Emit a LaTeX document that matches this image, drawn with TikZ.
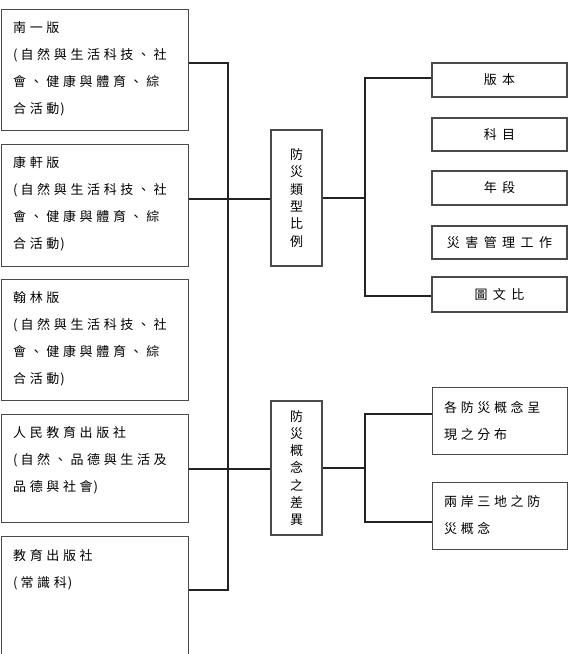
\documentclass[tikz,border=0pt]{standalone}
\usepackage{fontspec}
\newfontfamily\cjk[LetterSpace=28]{Noto Sans CJK TC}
\newfontfamily\cjkw[LetterSpace=42]{Noto Sans CJK TC}
\newfontfamily\cjkp{Noto Sans CJK TC}
\definecolor{boxc}{HTML}{4A4A4A}
\definecolor{linec}{HTML}{222222}
\newcommand{\lp}{(\hspace{3pt}}
\newcommand{\rp}{\hspace{1pt})}
\begin{document}
\begin{tikzpicture}[x=1pt,y=-1pt,
  box/.style={draw=boxc, line width=1.4pt, inner sep=0pt, anchor=north west},
  rbox/.style={draw=boxc, line width=1.4pt, inner sep=0pt, minimum width=135pt,
    font={\cjkw\fontsize{13}{27}\selectfont}},
  txt/.style={anchor=north west, inner sep=0pt, align=left,
    font={\cjk\fontsize{13}{27}\selectfont}},
  vtxt/.style={draw=boxc, line width=1.4pt, inner sep=0pt, minimum width=51pt,
    align=center, font={\cjkp\fontsize{13}{17.3}\selectfont}},
  conn/.style={draw=linec, line width=1.1pt}]
\useasboundingbox (0,0) rectangle (570,654);
\clip (0,0) rectangle (570,654);
\fill[white] (0,0) rectangle (570,654);
% left boxes
\node[box, minimum width=187pt, minimum height=121pt] (b1) at (1,9) {};
\node[txt] (b1t) at (13,21) {南一版\\\lp 自然與生活科技、社\\會、健康與體育、綜\\合活動\rp};
\node[box, minimum width=187pt, minimum height=122pt] (b2) at (1,144) {};
\node[txt] (b2t) at (13,156) {康軒版\\\lp 自然與生活科技、社\\會、健康與體育、綜\\合活動\rp};
\node[box, minimum width=187pt, minimum height=121pt] (b3) at (1,279) {};
\node[txt] (b3t) at (13,291) {翰林版\\\lp 自然與生活科技、社\\會、健康與體育、綜\\合活動\rp};
\node[box, minimum width=187pt, minimum height=108pt] (b4) at (1,414) {};
\node[txt] (b4t) at (13,426) {人民教育出版社\\\lp 自然、品德與生活及\\品德與社會\rp};
\node[box, minimum width=187pt, minimum height=130pt] (b5) at (1,536) {};
\node[txt] (b5t) at (13,549) {教育出版社\\\lp 常識科\rp};
% middle boxes
\node[vtxt, minimum height=136pt] (m1) at (296.5,198) {防\\災\\類\\型\\比\\例};
\node[vtxt, minimum height=134pt] (m2) at (296.5,468) {防\\災\\概\\念\\之\\差\\異};
% right boxes
\node[rbox, minimum height=34pt] (r1) at (499.5,80) {版本};
\node[rbox, minimum height=33pt] (r2) at (499.5,134.5) {科目};
\node[rbox, minimum height=34pt] (r3) at (499.5,188) {年段};
\node[rbox, minimum height=33pt] (r4) at (499.5,242.5) {災害管理工作};
\node[rbox, minimum height=35pt] (r5) at (499.5,294.5) {圖文比};
\node[box, minimum width=135pt, minimum height=67pt] (s1) at (432,387) {};
\node[txt] (s1t) at (444,401) {各防災概念呈\\現之分布};
\node[box, minimum width=135pt, minimum height=67pt] (s2) at (432,482) {};
\node[txt] (s2t) at (444,495) {兩岸三地之防\\災概念};
% connector coordinates
\coordinate (t1) at (228,63);
\coordinate (t2) at (228,199);
\coordinate (t4) at (228,469);
\coordinate (t5) at (228,590);
\coordinate (u1) at (365,78);
\coordinate (u5) at (365,296);
\coordinate (v1) at (365,414);
\coordinate (v2) at (365,522);
% connectors
\draw[conn] (b1.east |- t1) -- (t1) -- (t5) -- (b5.east |- t5);
\draw[conn] (b2.east |- t2) -- (t2) -- (m1.west |- t2);
\draw[conn] (b4.east |- t4) -- (t4) -- (m2.west |- t4);
\draw[conn] (m1.east) -- (m1.east -| u1);
\draw[conn] (r1.west |- u1) -- (u1) -- (u5) -- (r5.west |- u5);
\draw[conn] (m2.east) -- (m2.east -| v1);
\draw[conn] (s1.west |- v1) -- (v1) -- (v2) -- (s2.west |- v2);
\end{tikzpicture}
\end{document}
